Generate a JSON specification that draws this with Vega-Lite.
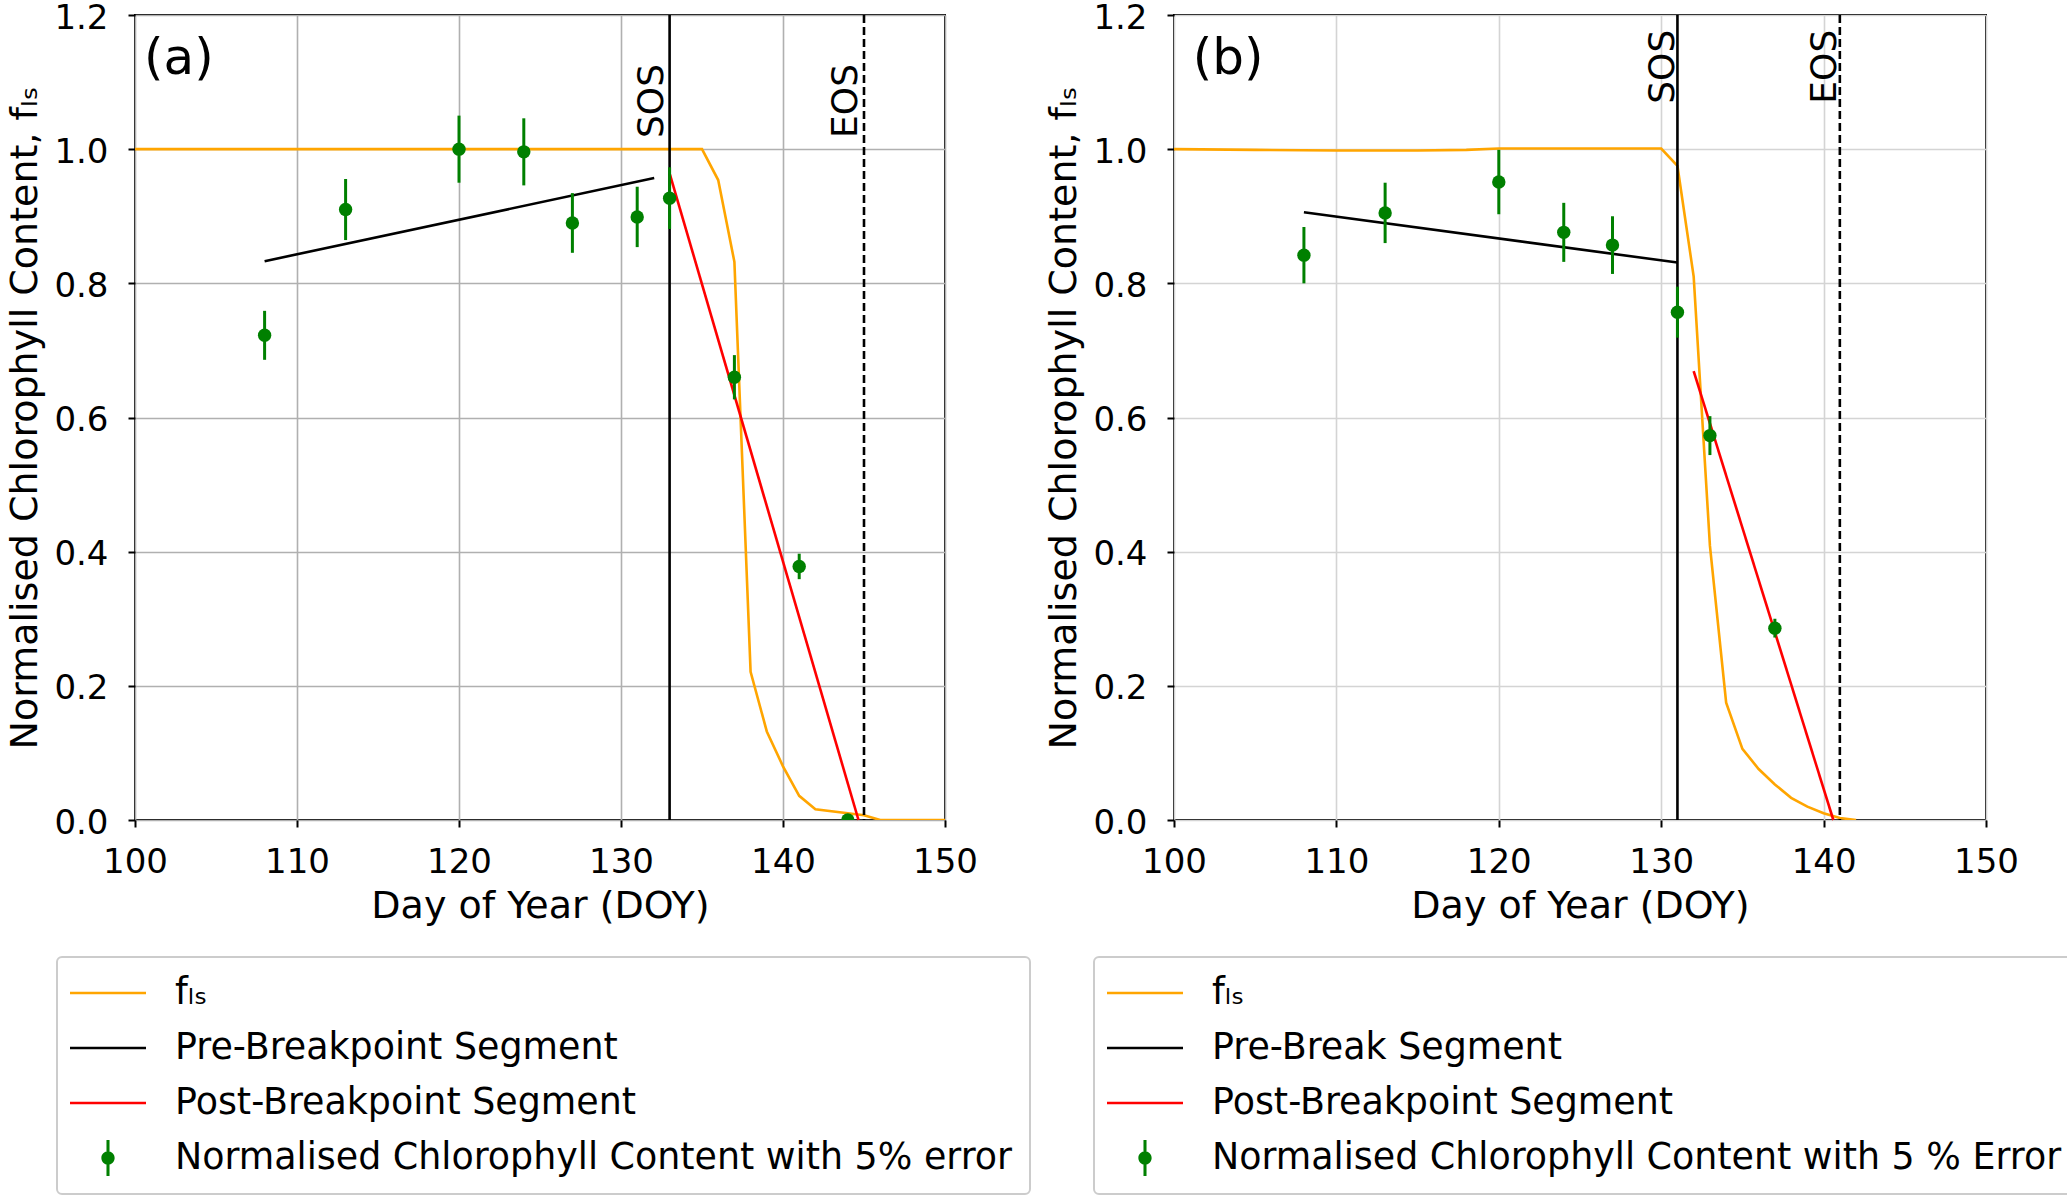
{
  "$schema": "https://vega.github.io/schema/vega-lite/v6.json",
  "padding": {"left": 5, "top": 0, "right": 0, "bottom": 0},
  "bounds": "flush",
  "spacing": 229,
  "datasets": {
    "fls_a": [
      {"doy": 100, "v": 1.0}, {"doy": 135, "v": 1.0}, {"doy": 136, "v": 0.954},
      {"doy": 137, "v": 0.832}, {"doy": 138, "v": 0.221}, {"doy": 139, "v": 0.132},
      {"doy": 140, "v": 0.08}, {"doy": 141, "v": 0.036}, {"doy": 142, "v": 0.016},
      {"doy": 145, "v": 0.007}, {"doy": 146, "v": 0.0}, {"doy": 150, "v": 0.0}
    ],
    "pre_a": [{"doy": 108, "v": 0.833}, {"doy": 132.05, "v": 0.957}],
    "post_a": [{"doy": 133, "v": 0.964}, {"doy": 144.66, "v": 0.0}],
    "obs_a": [
      {"doy": 108, "v": 0.7225, "lo": 0.686, "hi": 0.759},
      {"doy": 113, "v": 0.91, "lo": 0.8645, "hi": 0.9555},
      {"doy": 120, "v": 1.0, "lo": 0.95, "hi": 1.05},
      {"doy": 124, "v": 0.996, "lo": 0.946, "hi": 1.046},
      {"doy": 127, "v": 0.89, "lo": 0.8455, "hi": 0.9345},
      {"doy": 131, "v": 0.899, "lo": 0.854, "hi": 0.944},
      {"doy": 133, "v": 0.927, "lo": 0.881, "hi": 0.973},
      {"doy": 137, "v": 0.66, "lo": 0.627, "hi": 0.693},
      {"doy": 141, "v": 0.378, "lo": 0.359, "hi": 0.397},
      {"doy": 144, "v": 0.0, "lo": 0.0, "hi": 0.0}
    ],
    "marks_a": [
      {"doy": 133, "v": 1.127, "label": "SOS", "kind": "sos"},
      {"doy": 145, "v": 1.127, "label": "EOS", "kind": "eos"}
    ],
    "fls_b": [
      {"doy": 100, "v": 1.0}, {"doy": 105, "v": 0.999}, {"doy": 110, "v": 0.998},
      {"doy": 115, "v": 0.998}, {"doy": 118, "v": 0.999}, {"doy": 120, "v": 1.001},
      {"doy": 130, "v": 1.001}, {"doy": 131, "v": 0.975}, {"doy": 132, "v": 0.81},
      {"doy": 133, "v": 0.409}, {"doy": 134, "v": 0.175}, {"doy": 135, "v": 0.106},
      {"doy": 136, "v": 0.076}, {"doy": 137, "v": 0.053}, {"doy": 138, "v": 0.033},
      {"doy": 139, "v": 0.02}, {"doy": 140, "v": 0.01}, {"doy": 141, "v": 0.003},
      {"doy": 142, "v": 0.0}
    ],
    "pre_b": [{"doy": 108, "v": 0.906}, {"doy": 131, "v": 0.831}],
    "post_b": [{"doy": 132, "v": 0.669}, {"doy": 140.6, "v": 0.0}],
    "obs_b": [
      {"doy": 108, "v": 0.842, "lo": 0.8, "hi": 0.884},
      {"doy": 113, "v": 0.905, "lo": 0.86, "hi": 0.95},
      {"doy": 120, "v": 0.951, "lo": 0.903, "hi": 0.999},
      {"doy": 124, "v": 0.876, "lo": 0.832, "hi": 0.92},
      {"doy": 127, "v": 0.857, "lo": 0.814, "hi": 0.9},
      {"doy": 131, "v": 0.757, "lo": 0.719, "hi": 0.795},
      {"doy": 133, "v": 0.573, "lo": 0.544, "hi": 0.602},
      {"doy": 137, "v": 0.286, "lo": 0.272, "hi": 0.3}
    ],
    "marks_b": [
      {"doy": 131, "v": 1.178, "label": "SOS", "kind": "sos"},
      {"doy": 141, "v": 1.178, "label": "EOS", "kind": "eos"}
    ]
  },
  "hconcat": [
    {
      "width": 810,
      "height": 805,
      "layer": [
        {
          "data": {"name": "fls_a"},
          "mark": {"type": "line", "color": "#FFA500", "strokeWidth": 2.6, "clip": true},
          "encoding": {
            "x": {"field": "doy", "type": "quantitative", "scale": {"domain": [100, 150], "nice": false, "zero": false},
                  "axis": {"title": "Day of Year (DOY)", "values": [100, 110, 120, 130, 140, 150], "format": "d", "gridColor": "#b0b0b0"}},
            "y": {"field": "v", "type": "quantitative", "scale": {"domain": [0, 1.2], "nice": false, "zero": false},
                  "axis": {"title": "Normalised Chlorophyll Content, fₗₛ", "values": [0, 0.2, 0.4, 0.6, 0.8, 1.0, 1.2], "format": ".1f", "gridColor": "#b0b0b0"}}
          }
        },
        {
          "data": {"name": "pre_a"},
          "mark": {"type": "line", "color": "black", "strokeWidth": 2.6},
          "encoding": {
            "x": {"field": "doy", "type": "quantitative"},
            "y": {"field": "v", "type": "quantitative"}
          }
        },
        {
          "data": {"name": "post_a"},
          "mark": {"type": "line", "color": "#FF0000", "strokeWidth": 2.6},
          "encoding": {
            "x": {"field": "doy", "type": "quantitative"},
            "y": {"field": "v", "type": "quantitative"}
          }
        },
        {
          "data": {"name": "marks_a"},
          "mark": {"type": "rule", "color": "black", "strokeWidth": 2.6},
          "encoding": {
            "x": {"field": "doy", "type": "quantitative"},
            "strokeDash": {"field": "kind", "type": "nominal", "scale": {"domain": ["sos", "eos"], "range": [[1, 0], [8, 4]]}, "legend": null}
          }
        },
        {
          "data": {"name": "marks_a"},
          "mark": {"type": "text", "angle": 270, "align": "right", "baseline": "alphabetic", "dy": -7, "fontSize": 36, "font": "DejaVu Sans", "color": "black"},
          "encoding": {
            "x": {"field": "doy", "type": "quantitative"},
            "y": {"field": "v", "type": "quantitative"},
            "text": {"field": "label"}
          }
        },
        {
          "data": {"name": "obs_a"},
          "mark": {"type": "rule", "color": "#008000", "strokeWidth": 3},
          "encoding": {
            "x": {"field": "doy", "type": "quantitative"},
            "y": {"field": "lo", "type": "quantitative"},
            "y2": {"field": "hi"}
          }
        },
        {
          "data": {"name": "obs_a"},
          "mark": {"type": "point", "filled": true, "color": "#008000", "opacity": 1, "size": 180, "clip": true},
          "encoding": {
            "x": {"field": "doy", "type": "quantitative"},
            "y": {"field": "v", "type": "quantitative"}
          }
        },
        {
          "data": {"values": [{"doy": 100.56, "v": 1.134, "label": "(a)"}]},
          "mark": {"type": "text", "align": "left", "baseline": "middle", "fontSize": 50, "font": "DejaVu Sans", "color": "black"},
          "encoding": {
            "x": {"field": "doy", "type": "quantitative"},
            "y": {"field": "v", "type": "quantitative"},
            "text": {"field": "label"}
          }
        },
        {
          "data": {"values": [
            {"series": "fₗₛ"},
            {"series": "Pre-Breakpoint Segment"},
            {"series": "Post-Breakpoint Segment"},
            {"series": "Normalised Chlorophyll Content with 5% error"}
          ]},
          "mark": {"type": "point", "filled": true, "opacity": 1, "clip": true},
          "encoding": {
            "x": {"datum": 90, "type": "quantitative"},
            "y": {"datum": 0.5, "type": "quantitative"},
            "color": {
              "field": "series", "type": "nominal",
              "scale": {"domain": ["fₗₛ", "Pre-Breakpoint Segment", "Post-Breakpoint Segment", "Normalised Chlorophyll Content with 5% error"],
                        "range": ["#FFA500", "#000000", "#FF0000", "#008000"]},
              "legend": {"title": null, "orient": "none", "legendX": -78, "legendY": 942}
            },
            "shape": {
              "field": "series", "type": "nominal",
              "scale": {"domain": ["fₗₛ", "Pre-Breakpoint Segment", "Post-Breakpoint Segment", "Normalised Chlorophyll Content with 5% error"],
                        "range": ["M-2,-0.068L2,-0.068L2,0.068L-2,0.068Z", "M-2,-0.068L2,-0.068L2,0.068L-2,0.068Z", "M-2,-0.068L2,-0.068L2,0.068L-2,0.068Z",
                                  "M-0.08,-0.95L0.08,-0.95L0.08,0.95L-0.08,0.95Z M-0.35,0A0.35,0.35 0 1,1 0.35,0A0.35,0.35 0 1,1 -0.35,0Z"]},
              "legend": {"title": null, "orient": "none", "legendX": -78, "legendY": 942}
            }
          }
        }
      ]
    },
    {
      "width": 812,
      "height": 805,
      "layer": [
        {
          "data": {"name": "fls_b"},
          "mark": {"type": "line", "color": "#FFA500", "strokeWidth": 2.6, "clip": true},
          "encoding": {
            "x": {"field": "doy", "type": "quantitative", "scale": {"domain": [100, 150], "nice": false, "zero": false},
                  "axis": {"title": "Day of Year (DOY)", "values": [100, 110, 120, 130, 140, 150], "format": "d", "gridColor": "#d4d4d4"}},
            "y": {"field": "v", "type": "quantitative", "scale": {"domain": [0, 1.2], "nice": false, "zero": false},
                  "axis": {"title": "Normalised Chlorophyll Content, fₗₛ", "values": [0, 0.2, 0.4, 0.6, 0.8, 1.0, 1.2], "format": ".1f", "gridColor": "#d4d4d4"}}
          }
        },
        {
          "data": {"name": "pre_b"},
          "mark": {"type": "line", "color": "black", "strokeWidth": 2.6},
          "encoding": {
            "x": {"field": "doy", "type": "quantitative"},
            "y": {"field": "v", "type": "quantitative"}
          }
        },
        {
          "data": {"name": "post_b"},
          "mark": {"type": "line", "color": "#FF0000", "strokeWidth": 2.6},
          "encoding": {
            "x": {"field": "doy", "type": "quantitative"},
            "y": {"field": "v", "type": "quantitative"}
          }
        },
        {
          "data": {"name": "marks_b"},
          "mark": {"type": "rule", "color": "black", "strokeWidth": 2.6},
          "encoding": {
            "x": {"field": "doy", "type": "quantitative"},
            "strokeDash": {"field": "kind", "type": "nominal", "scale": {"domain": ["sos", "eos"], "range": [[1, 0], [8, 4]]}, "legend": null}
          }
        },
        {
          "data": {"name": "marks_b"},
          "mark": {"type": "text", "angle": 270, "align": "right", "baseline": "alphabetic", "dy": -3.5, "fontSize": 36, "font": "DejaVu Sans", "color": "black"},
          "encoding": {
            "x": {"field": "doy", "type": "quantitative"},
            "y": {"field": "v", "type": "quantitative"},
            "text": {"field": "label"}
          }
        },
        {
          "data": {"name": "obs_b"},
          "mark": {"type": "rule", "color": "#008000", "strokeWidth": 3},
          "encoding": {
            "x": {"field": "doy", "type": "quantitative"},
            "y": {"field": "lo", "type": "quantitative"},
            "y2": {"field": "hi"}
          }
        },
        {
          "data": {"name": "obs_b"},
          "mark": {"type": "point", "filled": true, "color": "#008000", "opacity": 1, "size": 180, "clip": true},
          "encoding": {
            "x": {"field": "doy", "type": "quantitative"},
            "y": {"field": "v", "type": "quantitative"}
          }
        },
        {
          "data": {"values": [{"doy": 101.15, "v": 1.134, "label": "(b)"}]},
          "mark": {"type": "text", "align": "left", "baseline": "middle", "fontSize": 50, "font": "DejaVu Sans", "color": "black"},
          "encoding": {
            "x": {"field": "doy", "type": "quantitative"},
            "y": {"field": "v", "type": "quantitative"},
            "text": {"field": "label"}
          }
        },
        {
          "data": {"values": [
            {"series": "fₗₛ"},
            {"series": "Pre-Break Segment"},
            {"series": "Post-Breakpoint Segment"},
            {"series": "Normalised Chlorophyll Content with 5 % Error"}
          ]},
          "mark": {"type": "point", "filled": true, "opacity": 1, "clip": true},
          "encoding": {
            "x": {"datum": 90, "type": "quantitative"},
            "y": {"datum": 0.5, "type": "quantitative"},
            "color": {
              "field": "series", "type": "nominal",
              "scale": {"domain": ["fₗₛ", "Pre-Break Segment", "Post-Breakpoint Segment", "Normalised Chlorophyll Content with 5 % Error"],
                        "range": ["#FFA500", "#000000", "#FF0000", "#008000"]},
              "legend": {"title": null, "orient": "none", "legendX": -80, "legendY": 942}
            },
            "shape": {
              "field": "series", "type": "nominal",
              "scale": {"domain": ["fₗₛ", "Pre-Break Segment", "Post-Breakpoint Segment", "Normalised Chlorophyll Content with 5 % Error"],
                        "range": ["M-2,-0.068L2,-0.068L2,0.068L-2,0.068Z", "M-2,-0.068L2,-0.068L2,0.068L-2,0.068Z", "M-2,-0.068L2,-0.068L2,0.068L-2,0.068Z",
                                  "M-0.08,-0.95L0.08,-0.95L0.08,0.95L-0.08,0.95Z M-0.35,0A0.35,0.35 0 1,1 0.35,0A0.35,0.35 0 1,1 -0.35,0Z"]},
              "legend": {"title": null, "orient": "none", "legendX": -80, "legendY": 942}
            }
          }
        }
      ]
    }
  ],
  "resolve": {
    "scale": {"x": "independent", "y": "independent", "color": "independent", "shape": "independent", "strokeDash": "independent"},
    "legend": {"color": "independent", "shape": "independent"}
  },
  "config": {
    "font": "DejaVu Sans",
    "view": {"stroke": "black", "strokeWidth": 2},
    "axis": {
      "labelFont": "DejaVu Sans", "labelFontSize": 34, "labelColor": "black",
      "titleFont": "DejaVu Sans", "titleFontSize": 38, "titleFontWeight": "normal", "titleColor": "black",
      "tickColor": "black", "tickSize": 7, "tickWidth": 2, "domain": false,
      "gridWidth": 1.6, "labelFlush": false, "labelOverlap": false
    },
    "axisX": {"labelPadding": 18, "titlePadding": 8},
    "axisY": {"labelPadding": 20, "titlePadding": 9, "labelOffset": 3},
    "legend": {
      "labelFont": "DejaVu Sans", "labelFontSize": 36.4, "labelColor": "black", "labelLimit": 1500,
      "symbolSize": 1444, "symbolStrokeWidth": 0, "symbolOffset": 15, "labelOffset": 48,
      "padding": 17, "rowPadding": 17,
      "strokeColor": "#cccccc", "strokeWidth": 2, "cornerRadius": 5, "fillColor": "white"
    }
  }
}
